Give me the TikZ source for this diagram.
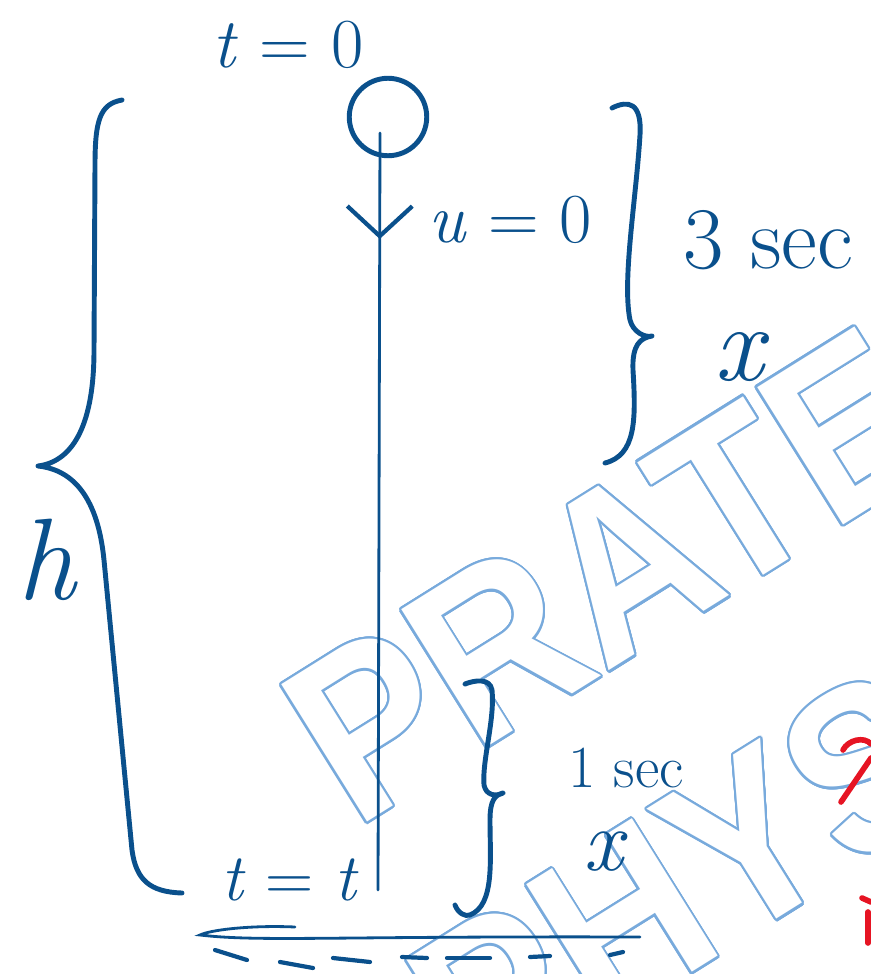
\documentclass[tikz,border=0pt]{standalone}
\usepackage{fontspec}
\usetikzlibrary{arrows.meta, decorations.markings, positioning}
\newfontfamily\wmfont{Liberation Sans}
\definecolor{ink}{RGB}{10,80,140}
\definecolor{wm}{RGB}{120,170,220}
\definecolor{redink}{RGB}{230,20,35}
\newcommand{\vv}[1]{\textit{#1}}
\tikzset{
  pen/.style={draw=ink, line width=2.8pt, line cap=round, line join=round},
  thinpen/.style={draw=ink, line width=1.6pt, line cap=round},
  lbl/.style={text=ink, inner sep=0pt},
  ball/.style={circle, draw=ink, line width=2.8pt, minimum size=1.55cm, inner sep=0pt},
  wmark/.style={inner sep=0pt, anchor=base west, rotate=32, xscale=0.9,
                font=\wmfont\bfseries\fontsize{134}{134}\selectfont},
  redpen/.style={draw=redink, line width=3.2pt, line cap=round}
}
\begin{document}
\begin{tikzpicture}[x=0.02cm, y=-0.02cm]
  \useasboundingbox (0,0) rectangle (871,974);
  % watermark, outlined letters
  \begin{scope}
    \clip (0,0) rectangle (871,974);
    \foreach \ang in {0,15,...,345} {
      \node[wmark, text=wm, shift={(\ang:1.3pt)}] at (355,830) {PRATEEK};
      \node[wmark, text=wm, shift={(\ang:1.3pt)}] at (480,1105) {PHYSICS};
    }
    \node[wmark, text=white] (wmone) at (355,830) {PRATEEK};
    \node[wmark, text=white] (wmtwo) at (480,1105) {PHYSICS};
  \end{scope}
  % falling body
  \node[ball] (ball) at (388,117) {};
  \coordinate (top) at (380,133);
  \coordinate (foot) at (378,890);
  \draw[thinpen, postaction={decorate}, decoration={markings,
        mark=at position 0.14 with {\arrow[ink, line width=2.4pt]{Straight Barb[length=6mm, width=13mm]}}}]
        (top) -- (foot);
  \node[lbl, font=\fontsize{40}{44}\selectfont] (tzero) at (288,45) {\vv{t} = 0};
  \node[lbl, font=\fontsize{40}{44}\selectfont, anchor=west] (uzero) at (428,220) {\vv{u} = 0};
  \node[lbl, font=\fontsize{38}{42}\selectfont] (tt) at (290,880) {\vv{t} = \vv{t}};
  % big brace, height h
  \draw[pen] (122,100) .. controls (100,104) and (95,120) .. (95,165)
        -- (94,350) .. controls (94,430) and (70,462) .. (38,466)
        .. controls (75,470) and (98,500) .. (104,560)
        -- (132,850) .. controls (136,880) and (150,892) .. (182,893);
  \node[lbl, font=\fontsize{66}{70}\selectfont] (h) at (48,560) {\vv{h}};
  % last 3 s
  \draw[pen] (612,108) .. controls (628,100) and (642,102) .. (640,135)
        .. controls (636,200) and (622,280) .. (630,320)
        .. controls (633,332) and (645,338) .. (652,336)
        .. controls (640,338) and (632,345) .. (633,370)
        .. controls (636,420) and (636,455) .. (605,463);
  \node[lbl, font=\fontsize{50}{54}\selectfont, anchor=west] (sthree) at (683,240) {3 sec};
  \node[lbl, font=\fontsize{62}{66}\selectfont] (xone) at (742,357) {\vv{x}};
  % last 1 s
  \draw[pen] (465,684) .. controls (475,680) and (490,678) .. (492,690)
        .. controls (495,720) and (482,760) .. (484,785)
        .. controls (486,795) and (495,797) .. (503,793)
        .. controls (495,795) and (490,800) .. (490,820)
        .. controls (490,860) and (495,905) .. (470,915)
        .. controls (465,917) and (458,913) .. (455,905);
  \node[lbl, font=\fontsize{34}{38}\selectfont, anchor=west] (sone) at (568,768) {1 sec};
  \node[lbl, font=\fontsize{50}{54}\selectfont] (xtwo) at (606,852) {\vv{x}};
  % ground
  \draw[thinpen] (295,927) .. controls (250,925) and (210,930) .. (200,935)
        .. controls (260,942) and (330,936) .. (640,937);
  \foreach \a/\b/\c/\d in {215/950/247/960, 280/962/313/968, 333/958/370/962,
                           402/957/427/958, 447/958/490/958, 530/957/550/956, 610/955/623/952}
    \draw[pen, line width=2.4pt] (\a,\b) -- (\c,\d);
  % red marks at the edge
  \draw[redpen] (843,750) .. controls (848,740) and (864,736) .. (871,744);
  \draw[redpen] (871,758) -- (841,802);
  \draw[redpen] (862,898) -- (871,902);
  \draw[redpen] (868,912) -- (868,943);
\end{tikzpicture}
\end{document}
